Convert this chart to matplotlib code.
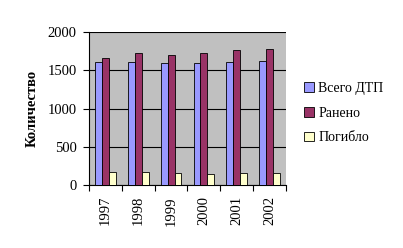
import numpy as np
import matplotlib.pyplot as plt

plt.rcParams['font.family'] = ['Liberation Serif', 'DejaVu Serif']

years = ['1997', '1998', '1999', '2000', '2001', '2002']
vsego = [1610, 1610, 1590, 1590, 1612, 1625]
raneno = [1656, 1721, 1699, 1721, 1765, 1782]
pogiblo = [174, 174, 153, 144, 161, 161]

fig = plt.figure(figsize=(4.03, 2.48), dpi=100)
ax = fig.add_axes([89 / 403, 1 - 185 / 248, 197 / 403, 153 / 248])
ax.set_facecolor('#c0c0c0')

x = np.arange(len(years))
w = 0.21
ax.bar(x - w, vsego, w, color='#9999ff', edgecolor='black', linewidth=0.6, label='Всего ДТП', zorder=3)
ax.bar(x, raneno, w, color='#993366', edgecolor='black', linewidth=0.6, label='Ранено', zorder=3)
ax.bar(x + w, pogiblo, w, color='#ffffcc', edgecolor='black', linewidth=0.6, label='Погибло', zorder=3)

ax.set_xlim(-0.5, len(years) - 0.5)
ax.set_ylim(0, 2000)
ax.set_yticks([0, 500, 1000, 1500, 2000])
ax.yaxis.grid(True, color='black', linewidth=0.8, zorder=1)
ax.set_axisbelow(True)

ax.set_xticks(np.arange(-0.5, len(years), 1))
ax.set_xticklabels([])
ax.set_xticks(x, minor=True)
ax.set_xticklabels(years, minor=True, rotation=90, fontsize=10.5)
ax.tick_params(axis='x', which='minor', length=0, pad=8)
ax.tick_params(axis='x', which='major', direction='out', length=4)
ax.tick_params(axis='y', direction='out', length=4, labelsize=10.5, pad=5)

for s in ['top', 'right']:
    ax.spines[s].set_visible(False)

ax.set_ylabel('Количество', fontsize=10.5, fontweight='bold', labelpad=6)

ax.legend(loc='center left', bbox_to_anchor=(1.03, 0.47), frameon=False,
          fontsize=10, handlelength=0.7, handleheight=0.7, handletextpad=0.3,
          labelspacing=0.85)

fig.savefig('out.png', dpi=100)
